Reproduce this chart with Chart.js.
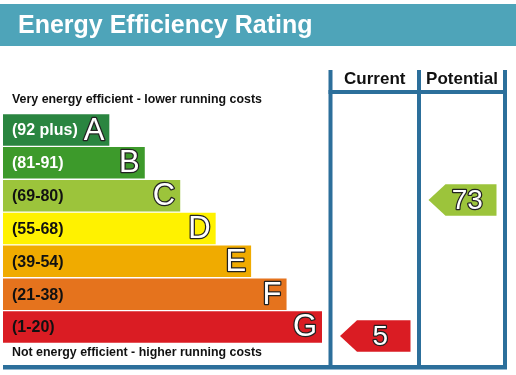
<!DOCTYPE html>
<html>
<head>
<meta charset="utf-8">
<script src="https://cdn.jsdelivr.net/npm/chart.js@4/dist/chart.umd.min.js"></script>
<style>
    html, body { margin: 0; padding: 0; background: #fff; }
    canvas { display: block; }
</style>
</head>
<body>
<canvas id="epcChart" width="516" height="375"></canvas>
<script>
// Bands, from best to worst
const bands = ['A', 'B', 'C', 'D', 'E', 'F', 'G'];
const bandRanges = ['(92 plus)', '(81-91)', '(69-80)', '(55-68)', '(39-54)', '(21-38)', '(1-20)'];
const bandMin = [92, 81, 69, 55, 39, 21, 1];
const bandMax = [100, 91, 80, 68, 54, 38, 20];
const barLength = [3, 4, 5, 6, 7, 8, 9];
const bandColors = ['#2a8540', '#3d9a2b', '#9cc43b', '#fff200', '#f0ab00', '#e5731d', '#da1c23'];
const rangeTextColors = ['#fff', '#fff', '#111', '#111', '#111', '#111', '#111'];

const currentRating = 5;
const potentialRating = 73;

const lineColor = '#2c6f9b';
const FONT = "'Liberation Sans', Arial, sans-serif";

// Kolumny Current / Potential
const colX = [330.5, 419, 505];

function bandIndexOf(v) {
    return bandMin.findIndex((m, i) => v >= m && v <= bandMax[i]);
}

function outlinedText(ctx, text, x, y, size, align) {
    ctx.font = size + 'px ' + FONT;
    ctx.textAlign = align;
    ctx.textBaseline = 'middle';
    ctx.lineJoin = 'round';
    ctx.lineWidth = 2.5;
    ctx.strokeStyle = '#222';
    ctx.strokeText(text, x, y);
    ctx.fillStyle = '#fff';
    ctx.fillText(text, x, y);
}

function drawArrow(ctx, left, right, cy, h, color, value) {
    const notch = 17;
    ctx.beginPath();
    ctx.moveTo(left, cy);
    ctx.lineTo(left + notch, cy - h / 2);
    ctx.lineTo(right, cy - h / 2);
    ctx.lineTo(right, cy + h / 2);
    ctx.lineTo(left + notch, cy + h / 2);
    ctx.closePath();
    ctx.fillStyle = color;
    ctx.fill();
    outlinedText(ctx, String(value), left + (right - left) * 0.57, cy + 1, 28, 'center');
}

const epcDecor = {
    id: 'epcDecor',
    beforeDraw(chart) {
        const ctx = chart.ctx;
        ctx.save();
        // naglowek
        ctx.fillStyle = '#4ea4b9';
        ctx.fillRect(0, 4, 516, 42);
        ctx.fillStyle = '#fff';
        ctx.font = 'bold 25px ' + FONT;
        ctx.textAlign = 'left';
        ctx.textBaseline = 'alphabetic';
        ctx.fillText('Energy Efficiency Rating', 18, 33);

        // podpisy
        ctx.fillStyle = '#111';
        ctx.font = 'bold 12.4px ' + FONT;
        ctx.textBaseline = 'middle';
        ctx.fillText('Very energy efficient - lower running costs', 12, 100);
        ctx.fillText('Not energy efficient - higher running costs', 12, 353);

        ctx.font = 'bold 17px ' + FONT;
        ctx.textAlign = 'center';
        ctx.fillText('Current', (colX[0] + colX[1]) / 2, 79);
        ctx.fillText('Potential', (colX[1] + colX[2]) / 2, 79);
        ctx.restore();
    },
    afterDatasetsDraw(chart) {
        const ctx = chart.ctx;
        const bars = chart.getDatasetMeta(0).data;
        ctx.save();

        bars.forEach((bar, i) => {
            const p = bar.getProps(['x', 'y', 'base', 'height'], true);
            ctx.fillStyle = rangeTextColors[i];
            ctx.font = 'bold 16px ' + FONT;
            ctx.textAlign = 'left';
            ctx.textBaseline = 'middle';
            ctx.fillText(bandRanges[i], p.base + 9, p.y + 1);
            outlinedText(ctx, bands[i], p.x - 5, p.y + 1, 31, 'right');
        });

        // strzalki z ocenami
        [[currentRating, 0, bandColors], [potentialRating, 1, bandColors]].forEach(([val, col]) => {
            const bi = bandIndexOf(val);
            const p = bars[bi].getProps(['y', 'height'], true);
            const top = p.y - p.height / 2;
            const cy = top + (bandMax[bi] - val) / (bandMax[bi] - bandMin[bi]) * p.height;
            drawArrow(ctx, colX[col] + 9.5, colX[col + 1] - 8.5, cy, p.height, bandColors[bi], val);
        });

        // linie tabeli
        ctx.fillStyle = lineColor;
        colX.forEach(x => ctx.fillRect(x - 2, 70, 4, 299));
        ctx.fillRect(colX[0] - 2, 90, colX[2] - colX[0] + 4, 4);
        ctx.fillRect(3, 365, colX[2] - 1, 4.5);
        ctx.restore();
    }
};

new Chart(document.getElementById('epcChart'), {
    type: 'bar',
    data: {
        labels: bands,
        datasets: [{
            data: barLength,
            backgroundColor: bandColors,
            borderWidth: 0,
            barPercentage: 1,
            categoryPercentage: 0.96
        }]
    },
    options: {
        indexAxis: 'y',
        responsive: false,
        animation: false,
        layout: { padding: { left: 3, right: 194, top: 113.65, bottom: 31.65 } },
        scales: {
            x: { display: false, min: 0, max: 9 },
            y: { display: false }
        },
        plugins: {
            legend: { display: false },
            tooltip: { enabled: false }
        }
    },
    plugins: [epcDecor]
});
</script>
</body>
</html>
